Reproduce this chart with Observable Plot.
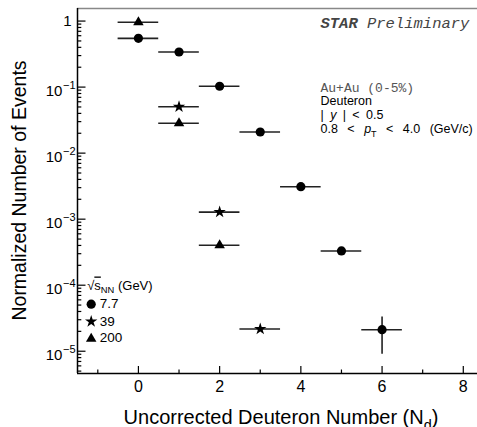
<!DOCTYPE html>
<html><head><meta charset="utf-8">
<script src="https://cdn.jsdelivr.net/npm/d3@7"></script>
<script src="https://cdn.jsdelivr.net/npm/@observablehq/plot@0.6"></script>
<style>
html,body{margin:0;padding:0;background:#fff;overflow:hidden}
svg{display:block}
</style></head><body><div id="chart"></div>
<script>
// ---- data ----
const energies = ["7.7", "39", "200"];
const nd77 = [0, 1, 2, 3, 4, 5, 6];
const val77 = [0.547, 0.34, 0.103, 0.0209, 0.0031, 3.3e-4, 2.12e-5];
const errLo77 = [null, null, null, null, null, null, 9.0e-6];
const errHi77 = [null, null, null, null, null, null, 3.3e-5];
const nd39 = [1, 2, 3];
const val39 = [0.0504, 1.28e-3, 2.17e-5];
const nd200 = [0, 1, 2];
const val200 = [0.96, 0.0283, 4.02e-4];
const binHalfWidth = 0.5;

// ---- axis ticks ----
const xDomain = [-1.5, 8.35];
const yDomain = [4.6e-6, 1.55];
const xMajor = [0, 2, 4, 6, 8];
const xMinor = [-1, 1, 3, 5, 7];
const yMajor = [1e-5, 1e-4, 1e-3, 1e-2, 1e-1, 1];
const yMinor = [1e-6, ...yMajor].flatMap(d => [2,3,4,5,6,7,8,9].map(k => k * d))
  .filter(v => v >= yDomain[0] && v <= yDomain[1]);

const rows77 = nd77.map((n, i) => ({e: energies[0], nd: n, y: val77[i], lo: errLo77[i], hi: errHi77[i]}));
const rows39 = nd39.map((n, i) => ({e: energies[1], nd: n, y: val39[i]}));
const rows200 = nd200.map((n, i) => ({e: energies[2], nd: n, y: val200[i]}));
const all = [...rows77, ...rows39, ...rows200];

const W = 477, H = 427, mL = 77, mT = 8, mB = 54, mR = 0;
const frameH = H - mT - mB, frameW = W - mL - mR;
const sans = "'Liberation Sans', Arial, Helvetica, sans-serif";
const mono = "'Liberation Mono', 'Courier New', monospace";
const ink = "#222";

const txtStar = "*{STAR}/{ Preliminary}";
const txtSys = "Au+Au (0-5%)";
const txtPart = "Deuteron";
const txtRap = "| /{y} | < 0.5";
const txtPt = "0.8 < /{p}_{T} < 4.0 (GeV/c)";
const txtLeg = "\u221A~{s}_{NN} (GeV)";
const wordGaps = new Map([[txtRap, 2.9], [txtPt, 6]]);

const note = (txt, dx, dy, o = {}) => Plot.text([txt], {
  text: d => d, frameAnchor: "top-left", dx, dy, textAnchor: "start", lineAnchor: "bottom",
  fontFamily: sans, fontSize: 12.5, fill: "#000", ...o
});

const chart = Plot.plot({
  width: W, height: H,
  marginLeft: mL, marginTop: mT, marginBottom: mB, marginRight: mR,
  style: {fontFamily: sans, background: "#fff", overflow: "visible"},
  x: {domain: xDomain},
  y: {type: "log", domain: yDomain},
  marks: [
    // frame lines
    Plot.ruleY([yDomain[1]], {stroke: "#888", strokeWidth: 1.5}),
    Plot.ruleX([xDomain[0]], {stroke: "#000", strokeWidth: 1.5}),
    Plot.ruleY([yDomain[0]], {stroke: "#000", strokeWidth: 1.5}),
    // inward ticks
    Plot.tickX(xMajor, {x: d => d, insetTop: frameH - 7, stroke: "#000", strokeWidth: 1.2}),
    Plot.tickX(xMinor, {x: d => d, insetTop: frameH - 3.5, stroke: "#000", strokeWidth: 1.2}),
    Plot.tickY(yMajor, {y: d => d, insetRight: frameW - 8.5, stroke: "#000", strokeWidth: 1.2}),
    Plot.tickY(yMinor, {y: d => d, insetRight: frameW - 4.3, stroke: "#000", strokeWidth: 1.2}),
    // tick labels
    Plot.axisX(xMajor, {tickSize: 0, tickPadding: 7, fontSize: 16, fontFamily: sans, fill: "#000", tickFormat: d => String(d), label: null}),
    Plot.axisY(yMajor, {tickSize: 0, tickPadding: 2, fontSize: 15, fontFamily: sans, fill: "#000",
      tickFormat: d => d === 1 ? "1" : "10^\u2212" + Math.round(-Math.log10(d)), label: null}),
    // error bars
    Plot.ruleY(all, {y: "y", x1: d => d.nd - binHalfWidth, x2: d => d.nd + binHalfWidth, stroke: ink, strokeWidth: 1.6}),
    Plot.ruleX(rows77.filter(d => d.lo != null), {x: "nd", y1: "lo", y2: "hi", stroke: ink, strokeWidth: 1.6}),
    // markers
    Plot.dot(rows77, {x: "nd", y: "y", symbol: "circle", r: 4.6, fill: "#000", stroke: "none"}),
    Plot.dot(rows39, {x: "nd", y: "y", symbol: "star", r: 3.9, fill: "#000", stroke: "none"}),
    Plot.dot(rows200, {x: "nd", y: "y", symbol: "triangle", r: 3.9, fill: "#000", stroke: "none"}),
    // axis titles
    Plot.text(["Normalized Number of Events"], {text: d => d, frameAnchor: "left", dx: -52, dy: -0.5, rotate: -90,
      textAnchor: "middle", lineAnchor: "bottom", fontSize: 19.5, fontFamily: sans, fill: "#000"}),
    Plot.text(["Uncorrected Deuteron Number (N_{d})"], {text: d => d, frameAnchor: "bottom", dx: 3.5, dy: 50.5,
      textAnchor: "middle", lineAnchor: "bottom", fontSize: 20, fontFamily: sans, fill: "#000"}),
    // annotations
    note(txtStar, 243, 19.5, {fontFamily: mono, fontSize: 15.5, fill: "#444"}),
    note(txtSys, 243, 83.2, {fontFamily: mono, fontSize: 13, fill: "#555"}),
    note(txtPart, 243, 96.5),
    note(txtRap, 243, 110.3),
    note(txtPt, 243, 124.5),
    // legend
    note(txtLeg, 9.7, 281, {fontSize: 13}),
    Plot.dot([energies[0]], {frameAnchor: "top-left", dx: 13.7, dy: 295.7, symbol: "circle", r: 4.6, fill: "#000"}),
    Plot.dot([energies[1]], {frameAnchor: "top-left", dx: 13.7, dy: 313, symbol: "star", r: 3.9, fill: "#000"}),
    Plot.dot([energies[2]], {frameAnchor: "top-left", dx: 13.7, dy: 330.3, symbol: "triangle", r: 3.9, fill: "#000"}),
    note(energies[0], 22.3, 299.7, {fontSize: 13.5}),
    note(energies[1], 22.3, 317, {fontSize: 13.5}),
    note(energies[2], 22.3, 333.7, {fontSize: 13.5})
  ]
});
document.getElementById("chart").appendChild(chart);

const NS = "http://www.w3.org/2000/svg";
// y tick labels as 10 with superscript exponent
d3.select(chart).selectAll('g[aria-label="y-axis tick label"] text').each(function () {
  const s = this.textContent;
  if (!s.includes("^")) { this.setAttribute("dx", -4); return; }
  const [b, e] = s.split("^");
  this.textContent = "";
  const t1 = document.createElementNS(NS, "tspan");
  t1.setAttribute("dy", 4.2); t1.textContent = b;
  const t2 = document.createElementNS(NS, "tspan");
  t2.setAttribute("dy", -7); t2.setAttribute("dx", 0.5); t2.setAttribute("font-size", 11); t2.textContent = e;
  this.appendChild(t1); this.appendChild(t2);
});
// word spacing for ROOT-like wide gaps
d3.select(chart).selectAll("text").each(function () {
  const g = wordGaps.get(this.textContent);
  if (g != null) this.style.wordSpacing = g + "px";
});
// rich text: _{sub} ^{sup} /{italic} *{bold italic} ~{overline}
d3.select(chart).selectAll("text").each(function () {
  const raw = this.textContent;
  if (!/[_^\/*~]\{/.test(raw)) return;
  const fs = parseFloat(getComputedStyle(this).fontSize) || 12;
  this.textContent = "";
  let shift = 0;
  const add = (str, kind) => {
    if (!str) return;
    const t = document.createElementNS(NS, "tspan");
    let target = 0;
    if (kind === "_") { target = fs * 0.3; t.setAttribute("font-size", fs * 0.72); }
    else if (kind === "^") { target = -fs * 0.45; t.setAttribute("font-size", fs * 0.72); }
    else if (kind === "/") t.setAttribute("font-style", "italic");
    else if (kind === "*") { t.setAttribute("font-weight", "bold"); t.setAttribute("font-style", "italic"); }
    else if (kind === "~") t.setAttribute("text-decoration", "overline");
    const dy = target - shift;
    if (dy) t.setAttribute("dy", dy);
    shift = target;
    t.textContent = str;
    this.appendChild(t);
  };
  const re = /([_^\/*~])\{([^}]*)\}/g;
  let last = 0, m;
  while ((m = re.exec(raw))) {
    add(raw.slice(last, m.index), "");
    add(m[2], m[1]);
    last = re.lastIndex;
  }
  add(raw.slice(last), "");
});
</script></body></html>
